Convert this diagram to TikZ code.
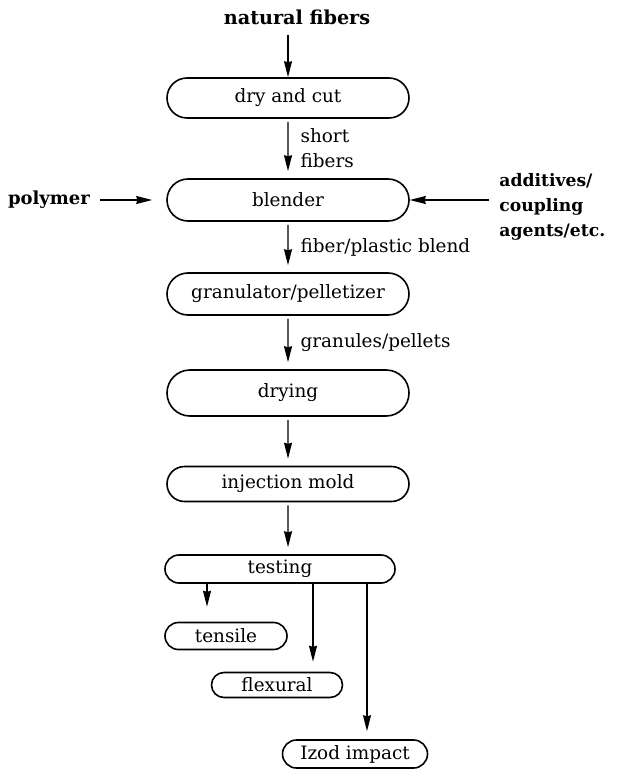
\documentclass[tikz,border=0pt]{standalone}
\usepackage{fontspec}
\setmainfont{DejaVu Serif}
\usepackage{tikz}
\usetikzlibrary{shapes.misc, arrows}
\usetikzlibrary{arrows.meta}
\tikzstyle{stage} = [rounded rectangle, draw=black, line width=0.8pt, minimum width=121pt, minimum height=20pt, inner sep=0pt, text centered, font=\fontsize{9.2}{10}\selectfont]
\tikzstyle{feed} = [inner sep=0pt, align=left, font=\fontsize{9.6}{12.5}\selectfont\bfseries]
\tikzstyle{lbl} = [right, xshift=6pt, inner sep=0pt, align=left, font=\fontsize{9.2}{12.5}\selectfont]
\tikzstyle{arrow} = [line width=0.6pt,->,>={Stealth[length=8pt,width=4pt,inset=0.6pt]}, shorten <=1.5pt, shorten >=3.5pt]

\begin{document}
\begin{tikzpicture}[x=0.5pt,y=-0.5pt]
\useasboundingbox (0,0) rectangle (622,770);

\node[feed] (natural) at (297,17) {natural fibers};
\node[stage] (dry) at (288,98) {dry and cut};
\node[stage, minimum height=21pt] (blender) at (288,200) {blender};
\node[feed, font=\fontsize{9}{12.5}\selectfont\bfseries] (polymer) at (49,200) {polymer};
\node[feed, anchor=west, font=\fontsize{8.6}{12.5}\selectfont\bfseries] (additives) at (499,207) {additives/\\coupling\\agents/etc.};
\node[stage, minimum height=21pt] (granulator) at (288,294) {granulator/pelletizer};
\node[stage, minimum height=23pt] (drying) at (288,393) {drying};
\node[stage, minimum height=17.5pt] (injection) at (288,484) {injection mold};
\node[stage, minimum width=115pt, minimum height=14pt] (testing) at (280,569) {testing};
\node[stage, minimum width=61pt, minimum height=13.5pt] (tensile) at (226,636) {tensile};
\node[stage, minimum width=65.5pt, minimum height=12.5pt] (flexural) at (277,685) {flexural};
\node[stage, minimum width=72.5pt, minimum height=14pt] (izod) at (355,754) {Izod impact};

\coordinate (tensileIn) at ([xshift=-9.5pt]tensile.north);
\coordinate (flexuralIn) at ([xshift=18pt]flexural.north);
\coordinate (izodIn) at ([xshift=6pt]izod.north);
\coordinate (testingIn) at (injection.south |- testing.north);

\draw[arrow, shorten <=5pt, shorten >=0pt] (dry.north |- natural.south) -- (dry.north);
\draw[arrow] (dry) -- node[lbl] {short\\fibers} (blender);
\draw[arrow, shorten <=5pt, shorten >=7pt] (polymer) -- (blender);
\draw[arrow, shorten <=5pt, shorten >=0pt] (additives.west |- blender.east) -- (blender.east);
\draw[arrow] (blender) -- node[lbl] {fiber/plastic blend} (granulator);
\draw[arrow] (granulator) -- node[lbl] {granules/pellets} (drying);
\draw[arrow] (drying) -- (injection);
\draw[arrow] (injection) -- (testingIn);
\draw[arrow, shorten <=0pt, shorten >=7.5pt] (testing.south -| tensileIn) -- (tensileIn);
\draw[arrow, shorten <=0pt, shorten >=5pt] (testing.south -| flexuralIn) -- (flexuralIn);
\draw[arrow, shorten <=0pt, shorten >=4pt] (testing.south -| izodIn) -- (izodIn);
\end{tikzpicture}
\end{document}
